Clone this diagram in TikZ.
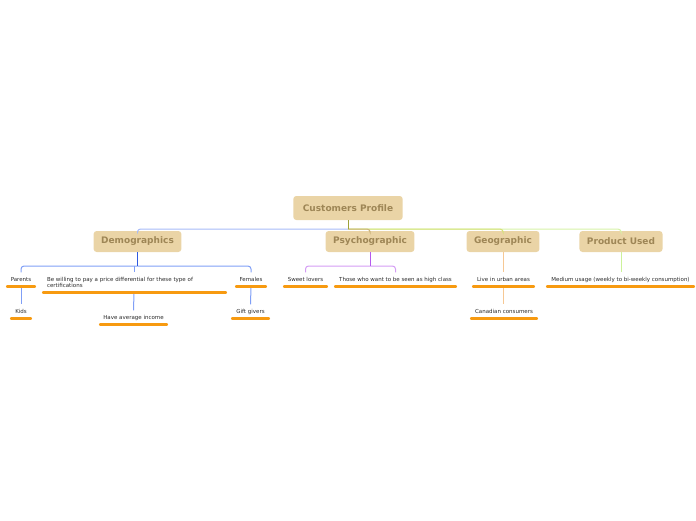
\documentclass[tikz,border=0pt]{standalone}
\usepackage{fontspec}
\setmainfont{DejaVu Sans}
\definecolor{boxfill}{HTML}{EAD4A6}
\definecolor{boxtext}{HTML}{9E8656}
\definecolor{ulorange}{HTML}{F79A10}
\definecolor{leaftext}{HTML}{2A2A2A}
\definecolor{rootstem}{HTML}{9EA23A}
\definecolor{cDemo}{HTML}{A6BAF8}
\definecolor{cPsy}{HTML}{CCB47C}
\definecolor{cGeo}{HTML}{D6E27A}
\definecolor{cProd}{HTML}{D6F2A8}
\definecolor{demStem}{HTML}{2F5AE0}
\definecolor{demLine}{HTML}{809FF6}
\definecolor{psyStem}{HTML}{B55AEE}
\definecolor{psyLine}{HTML}{D49CF4}
\definecolor{geoLine}{HTML}{F6C894}
\definecolor{prodLine}{HTML}{CCF29A}
\tikzset{
  rootbox/.style={fill=boxfill, text=boxtext, rounded corners=3pt, font=\fontsize{9}{10}\selectfont\bfseries, minimum height=24pt, inner xsep=9.5pt, inner ysep=0pt},
  topicbox/.style={fill=boxfill, text=boxtext, rounded corners=3pt, font=\fontsize{9}{10}\selectfont\bfseries, minimum height=21pt, inner xsep=7.5pt, inner ysep=0pt},
  leaf/.style={text=leaftext, font=\fontsize{5.5}{6.3}\selectfont, minimum height=14pt, inner xsep=0pt, inner ysep=0pt},
  ul/.style={draw=ulorange, line width=2.6pt, line cap=round},
  conn/.style={line width=1pt, rounded corners=3pt}
}
\newcommand{\uline}[1]{\draw[ul] ([xshift=1.3pt]#1.south west) -- ([xshift=-1.3pt]#1.south east);}
\begin{document}
\begin{tikzpicture}[x=1pt,y=1pt]
\useasboundingbox (0,0) rectangle (696,-520);
% main nodes
\node[rootbox] (root) at (348,-208) {Customers Profile};
\node[topicbox] (demog) at (137.5,-241.5) {Demographics};
\node[topicbox] (psy) at (370,-241.5) {Psychographic};
\node[topicbox] (geo) at (503,-241.5) {Geographic};
\node[topicbox] (prod) at (621,-241.5) {Product Used};
% leaves
\node[leaf, minimum width=30pt] (parents) at (21,-279.5) {Parents};
\node[leaf, minimum width=22pt] (kids) at (21,-311.5) {Kids};
\node[leaf, minimum width=185pt, minimum height=20pt, text width=175pt, align=left] (will) at (134.5,-282.5) {Be willing to pay a price differential for these type of\\certifications};
\node[leaf, minimum width=69pt] (income) at (133.5,-317.5) {Have average income};
\node[leaf, minimum width=32pt] (females) at (251,-279.5) {Females};
\node[leaf, minimum width=39pt] (gift) at (250.5,-311.5) {Gift givers};
\node[leaf, minimum width=45pt] (sweet) at (305.5,-279.5) {Sweet lovers};
\node[leaf, minimum width=123pt] (those) at (395.5,-279.5) {Those who want to be seen as high class};
\node[leaf, minimum width=63pt] (urban) at (503.5,-279.5) {Live in urban areas};
\node[leaf, minimum width=68pt] (canad) at (504,-311.5) {Canadian consumers};
\node[leaf, minimum width=149pt] (medium) at (620.5,-279.5) {Medium usage (weekly to bi-weekly consumption)};
% root connectors
\coordinate (rj) at (348,-229);
\draw[conn, draw=cProd] (rj) -| (prod.north);
\draw[conn, draw=cGeo] (rj) -| (geo.north);
\draw[conn, draw=cDemo] (rj) -| (demog.north);
\draw[conn, draw=cPsy] (rj) -| (psy.north);
\draw[line width=1pt, draw=rootstem] (root.south) -- (rj);
% demographics
\coordinate (dj) at (137.5,-266);
\draw[conn, draw=demLine] (dj) -| (parents.north);
\draw[conn, draw=demLine] (dj) -| (females.north);
\draw[conn, draw=demLine] (dj -| will.north) -- (will.north);
\draw[line width=1pt, draw=demStem] (demog.south) -- (dj);
\draw[conn, draw=demLine] (parents.south) -- (kids.north);
\draw[conn, draw=demLine] ([xshift=-0.5pt]will.south) -- (income.north);
\draw[conn, draw=demLine] (females.south) -- (gift.north);
% psychographic
\coordinate (pj) at (370,-266);
\draw[conn, draw=psyLine] (pj) -| (sweet.north);
\draw[conn, draw=psyLine] (pj) -| (those.north);
\draw[line width=1pt, draw=psyStem] (psy.south) -- (pj);
% geographic
\draw[conn, draw=geoLine] (geo.south) -- (geo.south |- urban.north);
\draw[conn, draw=geoLine] (urban.south) -- (urban.south |- canad.north);
% product used
\draw[conn, draw=prodLine] (prod.south) -- (prod.south |- medium.north);
% underlines
\uline{parents}\uline{kids}\uline{will}\uline{income}\uline{females}\uline{gift}
\uline{sweet}\uline{those}\uline{urban}\uline{canad}\uline{medium}
\end{tikzpicture}
\end{document}
